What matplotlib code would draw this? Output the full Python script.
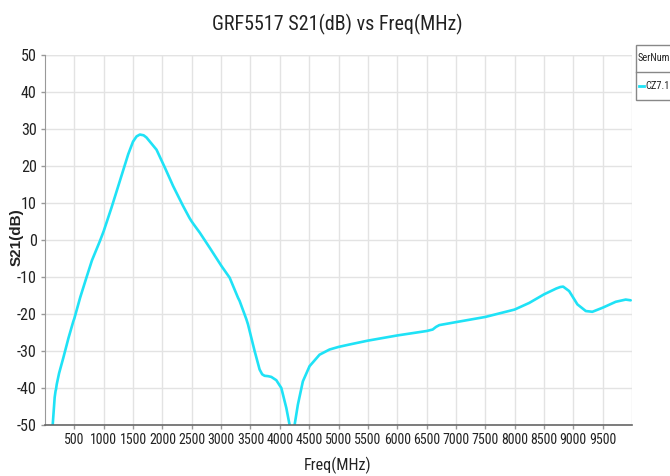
import numpy as np
import matplotlib
matplotlib.use('Agg')
import matplotlib.pyplot as plt
from matplotlib import font_manager
from matplotlib.patches import Rectangle
from matplotlib.lines import Line2D

# frequency (MHz) and S21 (dB)
freq = [115, 131, 165, 180, 187, 200, 240, 311, 400, 482, 500, 600, 709, 800, 935,
        1000, 1134, 1276, 1418, 1500, 1560, 1616, 1680, 1729, 1786, 1900, 2041,
        2126, 2182, 2352, 2460, 2495, 2530, 2636, 2806, 3005, 3146, 3288, 3316,
        3430, 3458, 3571, 3656, 3700, 3741, 3800, 3855, 3941, 4026, 4111, 4167,
        4210, 4252, 4308, 4393, 4507, 4677, 4847, 5000, 5200, 5500, 6000, 6500,
        6604, 6660, 6718, 7000, 7500, 8000, 8250, 8500, 8711, 8780, 8827, 8929,
        9070, 9213, 9325, 9500, 9723, 9893, 9978]
s21 = [-53, -50, -42.5, -40.8, -40.4, -39.0, -36.0, -31.9, -26.5, -22.0, -21.2,
       -15.5, -10.0, -5.5, -0.3, 2.4, 8.8, 16.0, 23.2, 26.6, 28.0, 28.5, 28.3,
       27.7, 26.6, 24.4, 19.6, 16.6, 14.6, 9.2, 6.0, 5.1, 4.3, 2.0, -2.1, -7.0,
       -10.2, -15.6, -16.5, -21.4, -22.8, -30.0, -35.0, -36.3, -36.7, -36.8,
       -37.0, -37.9, -40.0, -45.4, -50.0, -56.0, -50.0, -44.5, -38.2, -34.1,
       -31.0, -29.6, -28.9, -28.2, -27.2, -25.8, -24.6, -24.2, -23.5, -23.0,
       -22.2, -20.8, -18.8, -17.0, -14.7, -13.1, -12.7, -12.6, -13.8, -17.4,
       -19.2, -19.4, -18.3, -16.7, -16.1, -16.3]

xticks = list(range(500, 10000, 500))
yticks = list(range(-50, 51, 10))

# pick a narrow font if one exists, else scale Liberation Sans down
names = {f.name for f in font_manager.fontManager.ttflist}
if 'Liberation Sans Narrow' in names:
    fam, k = 'Liberation Sans Narrow', 1.0
elif 'Roboto Condensed' in names:
    fam, k = 'Roboto Condensed', 0.93
else:
    fam, k = 'Liberation Sans', 0.82
plt.rcParams['font.family'] = [fam, 'Liberation Sans', 'DejaVu Sans']

fig = plt.figure(figsize=(6.7, 4.76), dpi=100)
ax = fig.add_axes([45 / 670, 1 - 425 / 476, (632 - 45) / 670, (425 - 55) / 476])

ax.plot(freq, s21, color='#1FE2F6', linewidth=1.9, solid_capstyle='round')

ax.set_xlim(0, 10000)
ax.set_ylim(-50, 50)
ax.set_xticks(xticks)
ax.set_yticks(yticks)
ax.set_xticklabels([str(t) for t in xticks], fontsize=10.8 * k, color='#222222')
ax.set_yticklabels([str(t) for t in yticks], fontsize=12.5 * k, color='#222222')
ax.tick_params(axis='both', length=3, width=1, color='#999999', pad=3)

ax.grid(True, color='#e3e3e3', linewidth=1)
ax.set_axisbelow(True)
for s in ['top', 'right']:
    ax.spines[s].set_visible(False)
ax.spines['left'].set_color('#999999')
ax.spines['bottom'].set_color('#666666')
ax.spines['bottom'].set_linewidth(1.2)
# right-hand and top grid edge
ax.axvline(10000, color='#e3e3e3', linewidth=1, zorder=0)
ax.axhline(50, color='#e3e3e3', linewidth=1, zorder=0)

fig.text(337 / 670, 1 - 24 / 476, 'GRF5517 S21(dB) vs Freq(MHz)', fontsize=15.5 * k,
         ha='center', va='center', color='#222222')
fig.text(338 / 670, 1 - 465 / 476, 'Freq(MHz)', fontsize=12.5 * k,
         ha='center', va='center', color='#222222')
fig.text(17 / 670, 1 - 237 / 476, 'S21(dB)', fontsize=11, fontweight='bold',
         family=['Liberation Sans', 'DejaVu Sans'], rotation=90,
         ha='center', va='center', color='#222222')

# legend box, cut off by the right edge like the reference
lx0, ly0, ly1, lsep = 636, 45, 100, 72
fig.patches.append(Rectangle((lx0 / 670, 1 - ly1 / 476), 60 / 670, (ly1 - ly0) / 476,
                             transform=fig.transFigure, facecolor='white',
                             edgecolor='#888888', linewidth=1))
fig.lines.append(Line2D([lx0 / 670, 1], [1 - lsep / 476] * 2, transform=fig.transFigure,
                        color='#888888', linewidth=1))
fig.text(638 / 670, 1 - 58 / 476, 'SerNum', fontsize=8.0 * k, ha='left', va='center',
         color='#222222')
fig.lines.append(Line2D([639 / 670, 644 / 670], [1 - 86 / 476] * 2,
                        transform=fig.transFigure, color='#1FE2F6', linewidth=2))
fig.text(645 / 670, 1 - 86 / 476, 'CZ7.1', fontsize=8.0 * k, ha='left', va='center',
         color='#222222')

fig.savefig('out.png', dpi=100)
